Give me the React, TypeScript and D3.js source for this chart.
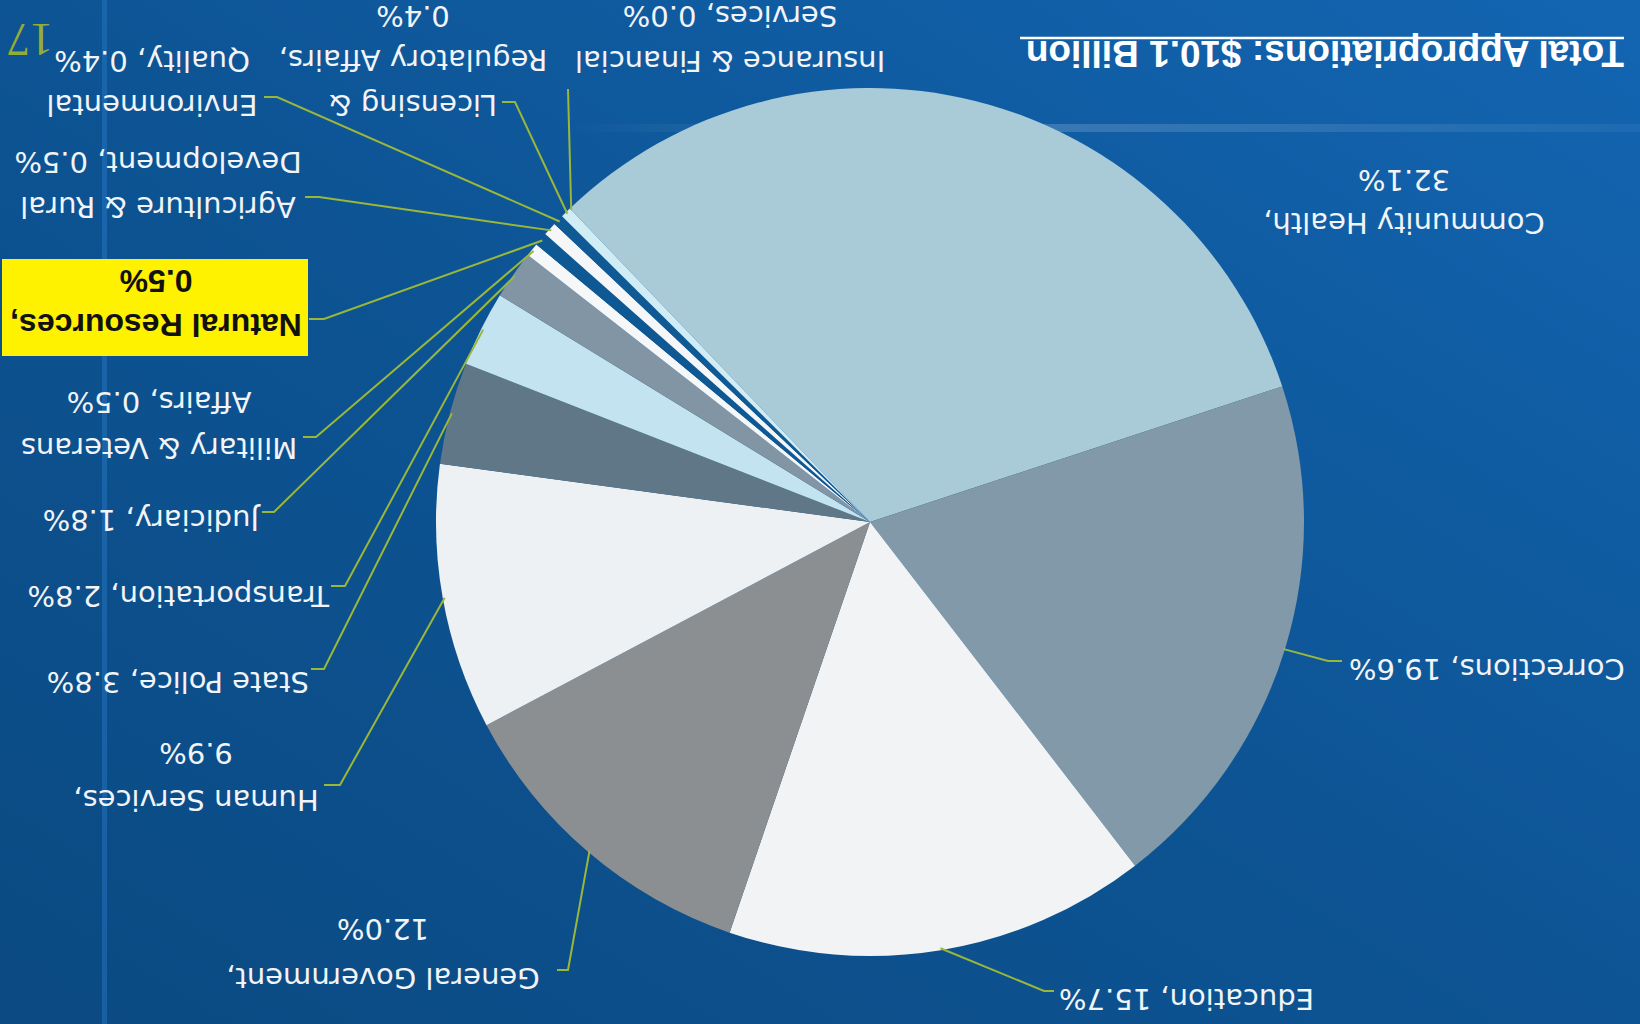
import * as d3 from "d3";

const W = 1640;
const H = 1024;

// budget shares, clockwise as drawn
const categories = [
  "Community Health",
  "Corrections",
  "Education",
  "General Government",
  "Human Services",
  "State Police",
  "Transportation",
  "Judiciary",
  "Military & Veterans Affairs",
  "Natural Resources",
  "Agriculture & Rural Development",
  "Environmental Quality",
  "Licensing & Regulatory Affairs",
  "Insurance & Financial Services",
];
const shares = [32.1, 19.6, 15.7, 12.0, 9.9, 3.8, 2.8, 1.8, 0.5, 0.5, 0.5, 0.4, 0.4, 0.0];
const labelLines = [
  ["Community Health,", "32.1%"],
  ["Corrections, 19.6%"],
  ["Education, 15.7%"],
  ["General Government,", "12.0%"],
  ["Human Services,", "9.9%"],
  ["State Police, 3.8%"],
  ["Transportation, 2.8%"],
  ["Judiciary, 1.8%"],
  ["Military & Veterans", "Affairs, 0.5%"],
  ["Natural Resources,", "0.5%"],
  ["Agriculture & Rural", "Development, 0.5%"],
  ["Environmental", "Quality, 0.4%"],
  ["Licensing &", "Regulatory Affairs,", "0.4%"],
  ["Insurance & Financial", "Services, 0.0%"],
];
const sliceColors = [
  "#a9cad7", "#8199a8", "#f1f3f5", "#8c8f92", "#eef1f3", "#5f7786", "#c3e3f0",
  "#8195a4", "#f5f7f9", "#0e5894", "#f4f6f8", "#0f5a95", "#d0ecf5", "#d0ecf5",
];
const title = "Total Appropriations: $10.1 Billion";
const pageNo = "17";

// label layout in the chart's own (unrotated) frame
type Layout = {
  x: number;
  y: number;
  anchor: "start" | "middle" | "end";
  lh?: number;
  leader?: [number, number][];
  box?: [number, number, number, number];
};
const layout: Layout[] = [
  { x: 236, y: 801, anchor: "middle", lh: 43 },
  { x: 291, y: 355, anchor: "end", leader: [[312, 363], [298, 363]] },
  { x: 581, y: 25, anchor: "end", leader: [[596, 33], [586, 33]] },
  { x: 1257, y: 46, anchor: "middle", lh: 49, leader: [[1072, 54], [1083, 54]] },
  { x: 1444, y: 224, anchor: "middle", lh: 47, leader: [[1300, 239], [1316, 239]] },
  { x: 1331, y: 342, anchor: "start", leader: [[1316, 355], [1329, 355]] },
  { x: 1311, y: 428, anchor: "start", leader: [[1295, 438], [1309, 438]] },
  { x: 1381, y: 504, anchor: "start", leader: [[1366, 512], [1378, 512]] },
  { x: 1481, y: 576, anchor: "middle", lh: 46, leader: [[1324, 587], [1337, 587]] },
  { x: 1484, y: 698, anchor: "middle", lh: 44, leader: [[1316, 705], [1331, 705]], box: [1332, 668, 306, 97] },
  { x: 1482, y: 817, anchor: "middle", lh: 45, leader: [[1321, 827], [1335, 827]] },
  { x: 1488, y: 919, anchor: "middle", lh: 44, leader: [[1363, 927], [1376, 927]] },
  { x: 1227, y: 919, anchor: "middle", lh: 44.5, leader: [[1125, 922], [1138, 922]] },
  { x: 910, y: 963, anchor: "middle", lh: 45, leader: [[1072, 935]] },
];

const cx = 770;
const cy = 502;
const R = 434;
const start = (136.24 * Math.PI) / 180;

const leaderColor = "#9ab73a";

export default function App() {
  const pie = d3
    .pie<number>()
    .value((d) => d)
    .sort(null)
    .startAngle(start)
    .endAngle(start + 2 * Math.PI);
  const arcs = pie(shares);
  const arc = d3.arc<d3.PieArcDatum<number>>().innerRadius(0).outerRadius(R);
  const edge = d3.arc<d3.PieArcDatum<number>>().innerRadius(R - 2).outerRadius(R - 2);
  const line = d3.line();

  return (
    <svg
      width={W}
      height={H}
      style={{ position: "fixed", left: 0, top: 0, display: "block" }}
    >
      <defs>
        <linearGradient id="bg" x1="0" y1="1" x2="1" y2="0">
          <stop offset="0" stopColor="#0b4a82" />
          <stop offset="0.5" stopColor="#0d5494" />
          <stop offset="1" stopColor="#1365b2" />
        </linearGradient>
        <linearGradient id="streak" x1="0" y1="0" x2="1" y2="0">
          <stop offset="0" stopColor="#ffffff" stopOpacity="0" />
          <stop offset="0.4" stopColor="#ffffff" stopOpacity="0.18" />
          <stop offset="1" stopColor="#ffffff" stopOpacity="0.05" />
        </linearGradient>
      </defs>
      <rect width={W} height={H} fill="url(#bg)" />
      <rect x={102} y={0} width={5} height={H} fill="#2d80cf" opacity={0.4} />
      <rect x={560} y={124} width={1080} height={8} fill="url(#streak)" />

      <g transform={`rotate(180 ${W / 2} ${H / 2})`}>
        <g transform={`translate(${cx},${cy})`}>
          {arcs.map((a, i) => (
            <path key={categories[i]} d={arc(a) ?? ""} fill={sliceColors[i]} />
          ))}
        </g>

        {arcs.map((a, i) => {
          const l = layout[i];
          if (!l.leader) return null;
          const [ex, ey] = edge.centroid(a);
          const pts: [number, number][] = [[cx + ex, cy + ey], ...l.leader];
          return (
            <path
              key={`ld-${i}`}
              d={line(pts) ?? ""}
              fill="none"
              stroke={leaderColor}
              strokeWidth={2}
            />
          );
        })}

        {labelLines.map((lines, i) => {
          const l = layout[i];
          const bold = !!l.box;
          return (
            <g key={`lb-${i}`}>
              {l.box && (
                <rect
                  x={l.box[0]}
                  y={l.box[1]}
                  width={l.box[2]}
                  height={l.box[3]}
                  fill="#fff200"
                />
              )}
              <text
                textAnchor={l.anchor}
                fontFamily={bold ? "Liberation Sans, Arial, sans-serif" : "DejaVu Sans, Verdana, sans-serif"}
                fontWeight={bold ? 700 : 400}
                fontSize={bold ? 32 : 29}
                fill={bold ? "#111" : "#f2f4f7"}
              >
                {lines.map((s, j) => (
                  <tspan key={j} x={l.x} y={l.y + j * (l.lh ?? 45)} dy="0.36em">
                    {s}
                  </tspan>
                ))}
              </text>
            </g>
          );
        })}

        <text
          x={16}
          y={970}
          dy="0.36em"
          fontFamily="Liberation Sans, Arial, sans-serif"
          fontWeight={700}
          fontSize={37}
          fill="#ffffff"
        >
          {title}
        </text>
        <line x1={16} x2={620} y1={986} y2={986} stroke="#ffffff" strokeWidth={2.5} />

        <text
          x={1610}
          y={1000}
          textAnchor="middle"
          fontFamily="Liberation Serif, Times New Roman, serif"
          fontSize={46}
          fill="#94ad34"
        >
          {pageNo}
        </text>
      </g>
    </svg>
  );
}
